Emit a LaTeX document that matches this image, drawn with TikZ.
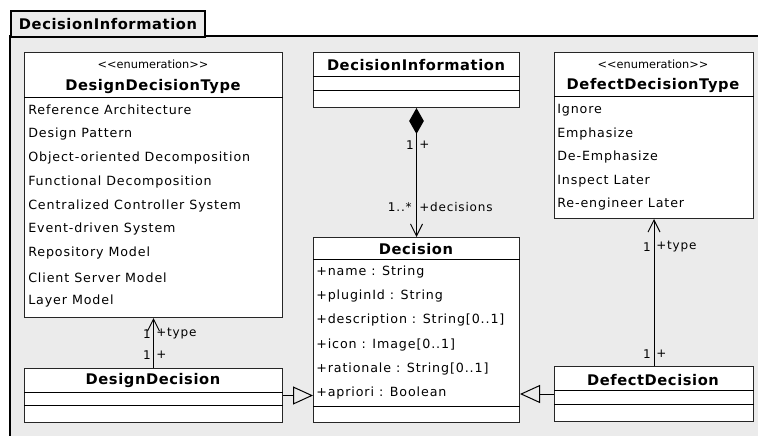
\documentclass[tikz,border=0pt]{standalone}
\usepackage{fontspec}
\setmainfont{DejaVu Sans}
\newfontfamily\itemfont[LetterSpace=7]{DejaVu Sans}
\newfontfamily\namefont[LetterSpace=4]{DejaVu Sans}
\usepackage{tikz}
\usetikzlibrary{arrows.meta}
\definecolor{pkggray}{HTML}{EBEBEB}

\begin{document}
\begin{tikzpicture}
	[x=0.75pt,y=-0.75pt,
	 classbox/.style={draw=black!85,fill=white,anchor=north west,inner sep=0,line width=0.75pt},
	 nametxt/.style={font=\namefont\bfseries\fontsize{11}{13}\selectfont,inner sep=0},
	 stereotxt/.style={font=\fontsize{8.5}{10}\selectfont,inner sep=0},
	 itemtxt/.style={font=\itemfont\fontsize{9.5}{11}\selectfont,inner sep=0,anchor=west},
	 lbl/.style={font=\itemfont\fontsize{9}{11}\selectfont,inner sep=0},
	 navarrow/.style={line width=0.75pt,-{Straight Barb[length=9pt,width=9pt]}},
	 comp/.style={line width=0.75pt,{Diamond[length=19.5pt,width=11pt]}-{Straight Barb[length=9pt,width=9pt]}},
	 gen/.style={line width=0.75pt,-{Triangle[open,length=15pt,width=13.5pt]}}]
	\useasboundingbox (0,0) rectangle (758,436);
	
	% package frame
	\draw[line width=1.5pt,fill=pkggray] (10,36) rectangle (790,460);
	\node[draw,line width=1.5pt,fill=pkggray,anchor=north west,minimum width=145.5pt,minimum height=19.5pt,font=\namefont\bfseries\fontsize{11}{13}\selectfont] (pkgtab) at (10,10) {DecisionInformation};
	
	% classes
	\node[classbox,minimum width=193.5pt,minimum height=198.75pt] (ddt) at (24,52) {};
	\node[classbox,minimum width=154.5pt,minimum height=41.25pt] (dinfo) at (313,52) {};
	\node[classbox,minimum width=149.25pt,minimum height=124.5pt] (dft) at (554,52) {};
	\node[classbox,minimum width=154.5pt,minimum height=138.75pt] (dec) at (313,237) {};
	\node[classbox,minimum width=193.5pt,minimum height=40.5pt] (dd) at (24,368) {};
	\node[classbox,minimum width=149.25pt,minimum height=41.25pt] (dfd) at (554,366) {};
	
	% compartments
	\draw ([yshift=-33.75pt]ddt.north west) -- ([yshift=-33.75pt]ddt.north east);
	\draw ([yshift=-18pt]dinfo.north west) -- ([yshift=-18pt]dinfo.north east);
	\draw ([yshift=-28.5pt]dinfo.north west) -- ([yshift=-28.5pt]dinfo.north east);
	\draw ([yshift=-33pt]dft.north west) -- ([yshift=-33pt]dft.north east);
	\draw ([yshift=-16.5pt]dec.north west) -- ([yshift=-16.5pt]dec.north east);
	\draw ([yshift=-126.75pt]dec.north west) -- ([yshift=-126.75pt]dec.north east);
	\draw ([yshift=-18pt]dd.north west) -- ([yshift=-18pt]dd.north east);
	\draw ([yshift=-28pt]dd.north west) -- ([yshift=-28pt]dd.north east);
	\draw ([yshift=-18pt]dfd.north west) -- ([yshift=-18pt]dfd.north east);
	\draw ([yshift=-28.5pt]dfd.north west) -- ([yshift=-28.5pt]dfd.north east);
	
	% names
	\node[stereotxt] (ddtst) at (153,64) {<{}<enumeration>{}>};
	\node[nametxt] (ddtname) at (153,87) {DesignDecisionType};
	\node[nametxt] (dinfoname) at (416,65) {DecisionInformation};
	\node[stereotxt] (dftst) at (653,64) {<{}<enumeration>{}>};
	\node[nametxt] (dftname) at (653,86) {DefectDecisionType};
	\node[nametxt] (decname) at (416,249) {Decision};
	\node[nametxt] (ddname) at (153,381) {DesignDecision};
	\node[nametxt] (dfdname) at (653,380) {DefectDecision};
	
	% literals and attributes
	\foreach \txt [count=\i from 0] in {Reference Architecture,Design Pattern,Object-oriented Decomposition,Functional Decomposition,Centralized Controller System,Event-driven System,Repository Model,Client Server Model,Layer Model}
		\node[itemtxt] (ddt\i) at (28,110+23.9*\i) {\txt};
	\foreach \txt [count=\i from 0] in {Ignore,Emphasize,De-Emphasize,Inspect Later,Re-engineer Later}
		\node[itemtxt] (dft\i) at (557,110+23.6*\i) {\txt};
	\foreach \txt [count=\i from 0] in {{+name : String},{+pluginId : String},{+description : String[0..1]},{+icon : Image[0..1]},{+rationale : String[0..1]},{+apriori : Boolean}}
		\node[itemtxt] (dec\i) at (316,272+24.2*\i) {\txt};
	
	% associations
	\draw[navarrow] (dd.north) -- (ddt.south);
	\draw[comp] (dinfo.south) -- (dec.north);
	\draw[navarrow] (dfd.north) -- (dft.south);
	\draw[gen] (dd.east) -- (dd.east -| dec.west);
	\draw[gen] (dfd.west) -- (dfd.west -| dec.east);
	
	% role labels
	\node[lbl,anchor=east] (l1) at (151,334) {1};
	\node[lbl,anchor=west] (l2) at (156,334) {+type};
	\node[lbl,anchor=east] (l3) at (151,355) {1};
	\node[lbl,anchor=west] (l4) at (156,355) {+};
	\node[lbl,anchor=east] (l5) at (414,145) {1};
	\node[lbl,anchor=west] (l6) at (419,145) {+};
	\node[lbl,anchor=east] (l7) at (412,207) {1..*};
	\node[lbl,anchor=west] (l8) at (419,207) {+decisions};
	\node[lbl,anchor=east] (l9) at (651,247) {1};
	\node[lbl,anchor=west] (l10) at (656,247) {+type};
	\node[lbl,anchor=east] (l11) at (651,354) {1};
	\node[lbl,anchor=west] (l12) at (656,354) {+};
\end{tikzpicture}
\end{document}
